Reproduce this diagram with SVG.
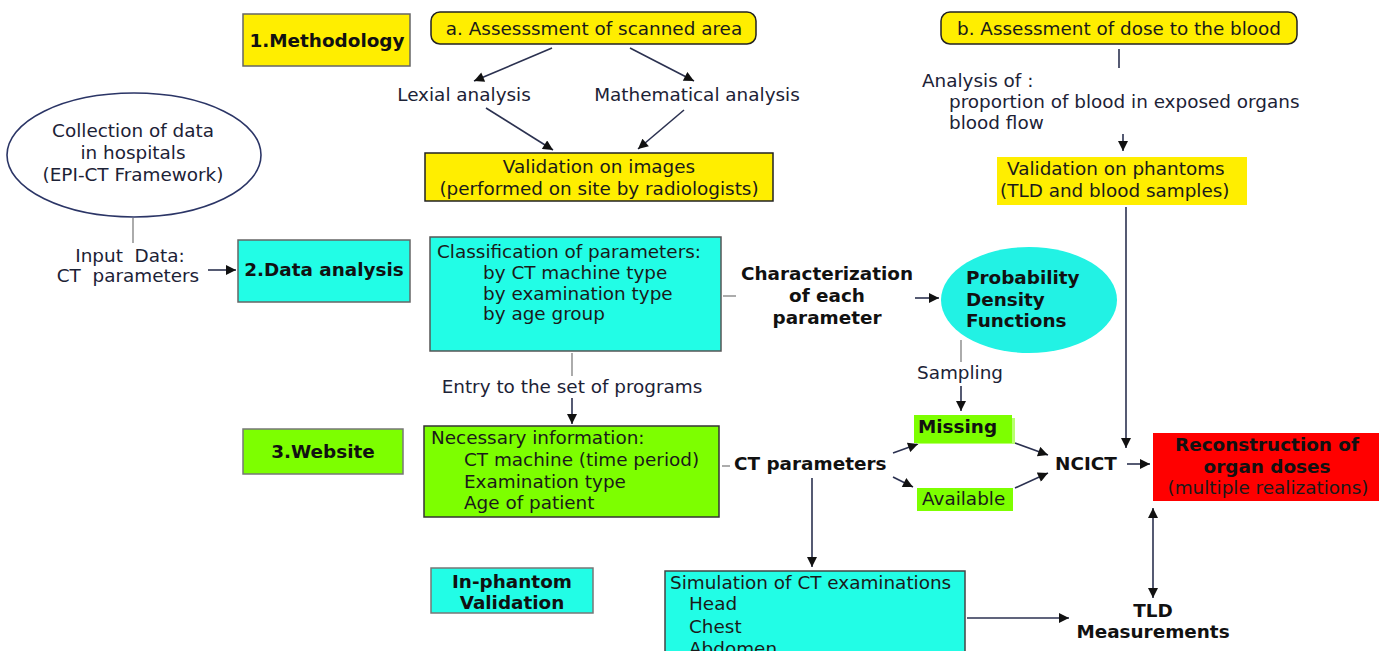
<svg xmlns="http://www.w3.org/2000/svg" width="1387" height="651" viewBox="0 0 1387 651">
<defs>
<marker id="ah" viewBox="0 0 10 10" refX="10" refY="5" markerWidth="11" markerHeight="10" markerUnits="userSpaceOnUse" orient="auto-start-reverse">
<path d="M0,0 L10,5 L0,10 Z" fill="#111"/>
</marker>
</defs>
<style>
text{font-family:"DejaVu Sans","Verdana",sans-serif;font-size:18.4px;fill:#1c2236}
.b{font-weight:bold;fill:#111}
.bx{fill:#1a1a1a}
.c{text-anchor:middle}
.yel{fill:#ffee00;stroke:#666;stroke-width:1.5}
.cy{fill:#22fde6;stroke:#666;stroke-width:1.5}
.gr{fill:#7dff00;stroke:#555;stroke-width:1.5}
.ln{stroke:#2b3150;stroke-width:1.6;fill:none}
.gl{stroke:#888;stroke-width:1.4;fill:none}
.ar{marker-end:url(#ah)}
</style>
<rect width="1387" height="651" fill="#fff"/>

<g id="connectors">
<line class="ln ar" x1="552" y1="48" x2="474" y2="81"/>
<line class="ln ar" x1="630" y1="48" x2="694" y2="81"/>
<line class="ln ar" x1="486" y1="108" x2="553" y2="150"/>
<line class="ln ar" x1="684" y1="110" x2="638" y2="149"/>
<line class="ln" x1="1119" y1="49" x2="1119" y2="68"/>
<line class="ln ar" x1="1123" y1="134" x2="1123" y2="151"/>
<line class="gl" x1="133" y1="218" x2="133" y2="243"/>
<line class="ln ar" x1="208" y1="270" x2="236" y2="270"/>
<line class="gl" x1="723" y1="296" x2="736" y2="296"/>
<line class="ln ar" x1="915" y1="298" x2="939" y2="298"/>
<line class="gl" x1="961" y1="340" x2="961" y2="362"/>
<line class="ln ar" x1="961" y1="386" x2="961" y2="411"/>
<line class="ln ar" x1="1126" y1="207" x2="1126" y2="448"/>
<line class="gl" x1="572" y1="353" x2="572" y2="376"/>
<line class="ln ar" x1="572" y1="398" x2="572" y2="424"/>
<line class="gl" x1="722" y1="466" x2="730" y2="466"/>
<line class="ln ar" x1="893" y1="453" x2="918" y2="444"/>
<line class="ln ar" x1="893" y1="477" x2="913" y2="487"/>
<line class="ln ar" x1="1015" y1="443" x2="1048" y2="455"/>
<line class="ln ar" x1="1015" y1="488" x2="1048" y2="473"/>
<line class="ln ar" x1="1127" y1="464" x2="1150" y2="464"/>
<line class="ln ar" x1="1153" y1="508" x2="1153" y2="598" style="marker-start:url(#ah)"/>
<line class="ln ar" x1="812" y1="478" x2="812" y2="567"/>
<line class="ln ar" x1="967" y1="618" x2="1069" y2="618"/>
</g>

<g id="methodology">
<rect class="yel" x="243" y="14" width="167" height="52"/>
<text class="b c" x="327" y="47">1.Methodology</text>
</g>

<g id="scanned-area">
<rect class="yel" x="431" y="12" width="325" height="32" rx="9" style="stroke:#222"/>
<text class="bx c" x="594" y="35">a. Assesssment of scanned area</text>
</g>

<g id="dose-blood">
<rect class="yel" x="941" y="12" width="356" height="32" rx="9" style="stroke:#222"/>
<text class="bx c" x="1119" y="35">b. Assessment of dose to the blood</text>
</g>

<g id="lexial"><text class="c" x="464" y="101">Lexial analysis</text></g>
<g id="mathematical"><text class="c" x="697" y="101">Mathematical analysis</text></g>

<g id="validation-images">
<rect class="yel" x="425" y="153" width="348" height="48" style="stroke:#222"/>
<text class="bx c" x="599" y="173">Validation on images</text>
<text class="bx c" x="599" y="195">(performed on site by radiologists)</text>
</g>

<g id="analysis-of">
<text x="922" y="87">Analysis of :</text>
<text x="949" y="108">proportion of blood in exposed organs</text>
<text x="949" y="129">blood flow</text>
</g>

<g id="validation-phantoms">
<rect x="997" y="157" width="250" height="48" fill="#ffee00"/>
<text class="bx" x="1007" y="175">Validation on phantoms</text>
<text class="bx" x="1000" y="197">(TLD and blood samples)</text>
</g>

<g id="collection">
<ellipse cx="134" cy="155" rx="127" ry="62" fill="#fff" stroke="#2b3566" stroke-width="1.6"/>
<text class="c" x="133" y="137">Collection of data</text>
<text class="c" x="133" y="159">in hospitals</text>
<text class="c" x="133" y="181">(EPI-CT Framework)</text>
</g>

<g id="input-data">
<text class="c" x="130" y="262">Input&#160; Data:</text>
<text class="c" x="128" y="282">CT&#160; parameters</text>
</g>

<g id="data-analysis">
<rect class="cy" x="238" y="240" width="172" height="62"/>
<text class="b c" x="324" y="276">2.Data analysis</text>
</g>

<g id="classification">
<rect class="cy" x="430" y="237" width="291" height="114" style="stroke:#555"/>
<text class="bx" x="437" y="258">Classification of parameters:</text>
<text class="bx" x="483" y="279">by CT machine type</text>
<text class="bx" x="483" y="300">by examination type</text>
<text class="bx" x="483" y="320">by age group</text>
</g>

<g id="characterization">
<text class="b c" x="827" y="280">Characterization</text>
<text class="b c" x="827" y="302">of each</text>
<text class="b c" x="827" y="324">parameter</text>
</g>

<g id="pdf">
<ellipse cx="1029" cy="300" rx="88" ry="53" fill="#22f2e4"/>
<text class="b" x="966" y="284">Probability</text>
<text class="b" x="966" y="306">Density</text>
<text class="b" x="966" y="327">Functions</text>
</g>

<g id="sampling"><text class="c" x="960" y="379">Sampling</text></g>
<g id="entry"><text class="c" x="572" y="393">Entry to the set of programs</text></g>

<g id="website">
<rect class="gr" x="243" y="429" width="160" height="45" style="stroke:#777"/>
<text class="b c" x="323" y="458">3.Website</text>
</g>

<g id="necessary">
<rect class="gr" x="424" y="426" width="295" height="91" style="stroke:#333"/>
<text class="bx" x="431" y="444">Necessary information:</text>
<text class="bx" x="464" y="466">CT machine (time period)</text>
<text class="bx" x="464" y="488">Examination type</text>
<text class="bx" x="464" y="509">Age of patient</text>
</g>

<g id="ct-parameters"><text class="b" x="734" y="470">CT parameters</text></g>

<g id="missing">
<rect x="917" y="418" width="98" height="26" fill="#b8ff70"/>
<rect x="914" y="415" width="98" height="28" fill="#7dff00"/>
<text class="b" x="918" y="433">Missing</text>
</g>

<g id="available">
<rect x="917" y="488" width="96" height="23" fill="#7dff00"/>
<text class="bx" x="922" y="505">Available</text>
</g>

<g id="ncict"><text class="b" x="1055" y="470">NCICT</text></g>

<g id="reconstruction">
<rect x="1153" y="433" width="226" height="68" fill="#ff0000"/>
<text class="b c" x="1267" y="451">Reconstruction of</text>
<text class="b c" x="1267" y="473">organ doses</text>
<text class="bx c" x="1268" y="494">(multiple realizations)</text>
</g>

<g id="tld">
<text class="b c" x="1153" y="617">TLD</text>
<text class="b c" x="1153" y="638">Measurements</text>
</g>

<g id="in-phantom">
<rect class="cy" x="431" y="568" width="162" height="45" style="stroke:#777"/>
<text class="b c" x="512" y="588">In-phantom</text>
<text class="b c" x="512" y="609">Validation</text>
</g>

<g id="simulation">
<rect class="cy" x="665" y="571" width="300" height="90" style="stroke:#444"/>
<text class="bx" x="670" y="589">Simulation of CT examinations</text>
<text class="bx" x="689" y="610">Head</text>
<text class="bx" x="689" y="633">Chest</text>
<text class="bx" x="689" y="655">Abdomen</text>
</g>
</svg>
